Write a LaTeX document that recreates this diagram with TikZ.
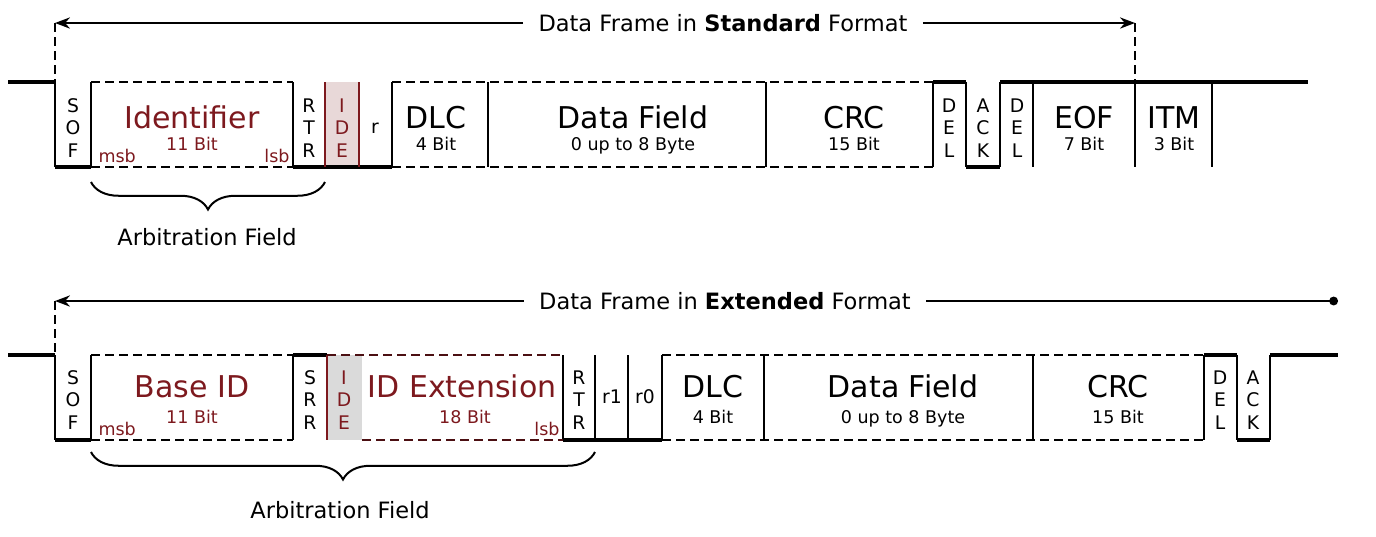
\documentclass[tikz,border=0pt]{standalone}
\usepackage{fontspec}
\setmainfont{DejaVu Sans}
\usetikzlibrary{positioning, arrows.meta, decorations.pathreplacing}
\definecolor{idred}{RGB}{125,25,30}
\definecolor{idepink}{RGB}{232,216,216}
\definecolor{idegray}{RGB}{218,218,218}

\begin{document}
\begin{tikzpicture}[x=0.4pt, y=-0.4pt,
level/.style={line width=1.8pt},
edge/.style={line width=0.8pt},
field/.style={line width=0.8pt, dash pattern=on 3.4pt off 2.2pt},
span/.style={line width=0.8pt},
bracket/.style={decorate, decoration={brace, mirror, amplitude=11pt}, line width=0.8pt},
bigtext/.style={font=\fontsize{12}{14}\selectfont, anchor=base, inner sep=0pt},
bits/.style={font=\fontsize{7}{8}\selectfont, anchor=base, inner sep=0pt},
letters/.style={font=\fontsize{7.5}{9}\selectfont, align=center, inner sep=0pt},
heading/.style={font=\fontsize{9}{11}\selectfont, inner xsep=6pt, inner ysep=0pt},
]
\useasboundingbox (0,0) rectangle (1376,536);

%standard frame: signal
\fill[idepink] (325,82) rectangle (359,167);
\draw[level] (8,82) -- (55,82) (55,167) -- (91,167) (293,167) -- (392,167)
  (933,82) -- (966,82) (966,167) -- (1000,167) (1000,82) -- (1308,82);
\draw[edge] (55,82) -- (55,167) (91,82) -- (91,167) (293,82) -- (293,167)
  (392,82) -- (392,167) (488,82) -- (488,167) (766,82) -- (766,167)
  (933,82) -- (933,167) (966,82) -- (966,167) (1000,82) -- (1000,167)
  (1033,82) -- (1033,167) (1135,82) -- (1135,167) (1212,82) -- (1212,167);
\draw[edge, idred] (325,82) -- (325,167) (359,82) -- (359,167);
\draw[field] (91,82) -- (293,82) (91,167) -- (293,167)
  (392,82) -- (933,82) (392,167) -- (933,167);

%standard frame: fields
\node[letters] (sof1) at (73,128) {S\\O\\F};
\node[bigtext, idred] (ident) at (192,128) {Identifier};
\node[bits, idred] (identbits) at (192,150) {11 Bit};
\node[bits, idred, anchor=base west] (msb1) at (98,162) {msb};
\node[bits, idred, anchor=base east] (lsb1) at (290,162) {lsb};
\node[letters] (rtr1) at (309,128) {R\\T\\R};
\node[letters, idred] (ide1) at (342,128) {I\\D\\E};
\node[letters] (res1) at (375,128) {r};
\node[bigtext] (dlc1) at (436,128) {DLC};
\node[bits] (dlcbits1) at (436,150) {4 Bit};
\node[bigtext] (data1) at (633,128) {Data Field};
\node[bits] (databits1) at (633,150) {0 up to 8 Byte};
\node[bigtext] (crc1) at (854,128) {CRC};
\node[bits] (crcbits1) at (854,150) {15 Bit};
\node[letters] (del1) at (949,128) {D\\E\\L};
\node[letters] (ack1) at (983,128) {A\\C\\K};
\node[letters] (del2) at (1017,128) {D\\E\\L};
\node[bigtext] (eof) at (1084,128) {EOF};
\node[bits] (eofbits) at (1084,150) {7 Bit};
\node[bigtext] (itm) at (1174,128) {ITM};
\node[bits] (itmbits) at (1174,150) {3 Bit};

%standard frame: span and arbitration
\node[heading] (stdhead) at (723,23) {Data Frame in \textbf{Standard} Format};
\coordinate (stdL) at (55,23);
\coordinate (stdR) at (1135,23);
\coordinate (stdLlow) at (55,82);
\coordinate (stdRlow) at (1135,82);
\draw[span, -{Stealth[length=6pt, width=4.5pt]}] (stdhead.west) -- (stdL);
\draw[span, -{Stealth[length=6pt, width=4.5pt]}] (stdhead.east) -- (stdR);
\draw[field] (stdL) -- (stdLlow) (stdR) -- (stdRlow);
\coordinate (arb1L) at (91,182);
\coordinate (arb1R) at (325,182);
\draw[bracket] (arb1L) -- (arb1R);
\node[heading] (arb1) at (207,237) {Arbitration Field};

%extended frame: signal
\fill[idegray] (327,355) rectangle (362,440);
\draw[level] (8,355) -- (55,355) (55,440) -- (91,440) (293,355) -- (327,355)
  (563,440) -- (662,440) (1204,355) -- (1237,355) (1237,440) -- (1270,440)
  (1270,355) -- (1338,355);
\draw[edge] (55,355) -- (55,440) (91,355) -- (91,440) (293,355) -- (293,440)
  (563,355) -- (563,440) (595,355) -- (595,440) (628,355) -- (628,440)
  (662,355) -- (662,440) (764,355) -- (764,440) (1033,355) -- (1033,440)
  (1204,355) -- (1204,440) (1237,355) -- (1237,440) (1270,355) -- (1270,440);
\draw[edge, idred] (327,355) -- (327,440);
\draw[field] (91,355) -- (293,355) (91,440) -- (293,440)
  (662,355) -- (1204,355) (662,440) -- (1204,440);
\draw[field, idred!60!black] (327,355) -- (563,355) (362,440) -- (563,440);

%extended frame: fields
\node[letters] (sof2) at (73,400) {S\\O\\F};
\node[bigtext, idred] (baseid) at (192,397) {Base ID};
\node[bits, idred] (baseidbits) at (192,423) {11 Bit};
\node[bits, idred, anchor=base west] (msb2) at (98,435) {msb};
\node[letters] (srr) at (310,400) {S\\R\\R};
\node[letters, idred] (ide2) at (344,400) {I\\D\\E};
\node[bigtext, idred] (idext) at (462,397) {ID Extension};
\node[bits, idred] (idextbits) at (465,423) {18 Bit};
\node[bits, idred, anchor=base east] (lsb2) at (560,435) {lsb};
\node[letters] (rtr2) at (579,400) {R\\T\\R};
\node[bits, font=\fontsize{7.5}{9}\selectfont] (res2) at (612,403) {r1};
\node[bits, font=\fontsize{7.5}{9}\selectfont] (res3) at (645,403) {r0};
\node[bigtext] (dlc2) at (713,397) {DLC};
\node[bits] (dlcbits2) at (713,423) {4 Bit};
\node[bigtext] (data2) at (903,397) {Data Field};
\node[bits] (databits2) at (903,423) {0 up to 8 Byte};
\node[bigtext] (crc2) at (1118,397) {CRC};
\node[bits] (crcbits2) at (1118,423) {15 Bit};
\node[letters] (del3) at (1220,400) {D\\E\\L};
\node[letters] (ack2) at (1253,400) {A\\C\\K};

%extended frame: span and arbitration
\node[heading] (exthead) at (725,301) {Data Frame in \textbf{Extended} Format};
\coordinate (extL) at (55,301);
\coordinate (extR) at (1338,301);
\coordinate (extLlow) at (55,355);
\draw[span, -{Stealth[length=6pt, width=4.5pt]}] (exthead.west) -- (extL);
\draw[span, -{Circle[length=3.5pt]}] (exthead.east) -- (extR);
\draw[field] (extL) -- (extLlow);
\coordinate (arb2L) at (91,452);
\coordinate (arb2R) at (595,452);
\draw[bracket] (arb2L) -- (arb2R);
\node[heading] (arb2) at (340,510) {Arbitration Field};
\end{tikzpicture}
\end{document}
